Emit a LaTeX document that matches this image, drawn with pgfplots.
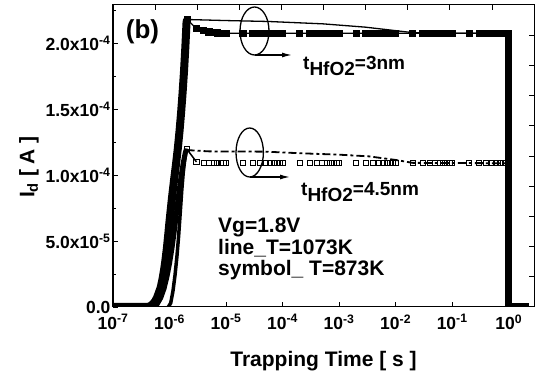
\documentclass[border=0pt]{standalone}
\usepackage{fontspec}
\setmainfont{Liberation Sans}
\usepackage{pgfplots}
\pgfplotsset{compat=1.18}
\usetikzlibrary{arrows.meta}
\begin{document}
\begin{tikzpicture}
\useasboundingbox (-113pt,-72pt) rectangle (425pt,307pt);
\begin{axis}[
  width=421pt, height=302pt, scale only axis,
  xmode=log, log basis x=10,
  xmin=1e-7, xmax=2.8, ymin=0, ymax=2.29e-4,
  scaled y ticks=false,
  xtick={1e-7,1e-6,1e-5,1e-4,1e-3,1e-2,1e-1,1},
  xticklabels={10\textsuperscript{-7},10\textsuperscript{-6},10\textsuperscript{-5},10\textsuperscript{-4},10\textsuperscript{-3},10\textsuperscript{-2},10\textsuperscript{-1},10\textsuperscript{0}},
  ytick={0,5e-5,1e-4,1.5e-4,2e-4},
  yticklabels={0.0,5.0x10\textsuperscript{-5},1.0x10\textsuperscript{-4},1.5x10\textsuperscript{-4},2.0x10\textsuperscript{-4}},
  minor ytick={2.5e-5,7.5e-5,1.25e-4,1.75e-4,2.25e-4},
  tick align=inside, xtick pos=left, ytick pos=left,
  major tick length=5pt, minor tick length=3pt,
  every tick/.style={black, line width=0.8pt},
  axis line style={line width=1pt},
  tick label style={font=\bfseries\fontsize{17.5}{17.5}\selectfont},
  yticklabel style={xshift=1pt},
  xticklabel style={yshift=-4pt},
  clip marker paths=true,
]
% 4.5nm, 873K: rise (dense symbols, drawn as a band)
\addplot[black, line width=5pt, line join=round] coordinates {
(4e-7,0)(5.5e-7,0)(6e-7,0.2e-5)(7e-7,0.7e-5)(8e-7,1.4e-5)(9e-7,2.3e-5)(1e-6,3.3e-5)
(1.1e-6,4.4e-5)(1.2e-6,5.6e-5)(1.3e-6,6.8e-5)(1.4e-6,8.0e-5)(1.5e-6,9.0e-5)(1.6e-6,9.9e-5)
(1.7e-6,1.06e-4)(1.8e-6,1.12e-4)(1.9e-6,1.17e-4)(2e-6,1.2e-4)
};
% 3nm rise: thick band (line and symbols overlapping)
\addplot[black, line width=8pt, line join=round] coordinates {
(1e-7,0)(4e-7,0)(4.5e-7,0.05e-5)(5e-7,0.2e-5)(5.5e-7,0.4e-5)(6e-7,0.7e-5)(6.5e-7,1.1e-5)
(7e-7,1.5e-5)(7.5e-7,2.1e-5)(8e-7,2.8e-5)(8.5e-7,3.6e-5)(9e-7,4.5e-5)(9.5e-7,5.5e-5)
(1e-6,6.5e-5)(1.1e-6,8.2e-5)(1.2e-6,9.6e-5)(1.3e-6,1.08e-4)(1.4e-6,1.2e-4)(1.5e-6,1.33e-4)
(1.6e-6,1.47e-4)(1.7e-6,1.62e-4)(1.8e-6,1.78e-4)(1.9e-6,1.96e-4)(2e-6,2.16e-4)(2.05e-6,2.18e-4)
};
% 3nm, 873K: filled squares at zero before the pulse
\addplot[black, only marks, mark=square*, mark size=3pt, mark options={fill=black}] coordinates {
(1e-7,0)(1.5e-7,0)(2e-7,0)(2.5e-7,0)(3e-7,0)(3.5e-7,0)(4e-7,0)
};
% 3nm, 873K: filled squares after the peak
\addplot[black, line width=1.2pt, mark=square*, mark size=3pt, mark options={fill=black, solid}] coordinates {
(2.05e-6,2.18e-4)
(3e-6,2.11e-4)(4e-6,2.095e-4)(5e-6,2.085e-4)(6e-6,2.08e-4)(7e-6,2.078e-4)(8e-6,2.076e-4)(9e-6,2.075e-4)
(1e-5,2.075e-4)(2e-5,2.075e-4)(3e-5,2.075e-4)(4e-5,2.075e-4)(5e-5,2.075e-4)(6e-5,2.075e-4)(7e-5,2.075e-4)(8e-5,2.075e-4)(9e-5,2.075e-4)
(1e-4,2.075e-4)(2e-4,2.075e-4)(3e-4,2.075e-4)(4e-4,2.075e-4)(5e-4,2.075e-4)(6e-4,2.075e-4)(7e-4,2.075e-4)(8e-4,2.075e-4)(9e-4,2.075e-4)
(1e-3,2.075e-4)(2e-3,2.075e-4)(3e-3,2.075e-4)(4e-3,2.075e-4)(5e-3,2.075e-4)(6e-3,2.075e-4)(7e-3,2.075e-4)(8e-3,2.075e-4)(9e-3,2.075e-4)
(1e-2,2.075e-4)(2e-2,2.075e-4)(3e-2,2.075e-4)(4e-2,2.075e-4)(5e-2,2.075e-4)(6e-2,2.075e-4)(7e-2,2.075e-4)(8e-2,2.075e-4)(9e-2,2.075e-4)
(1e-1,2.075e-4)(2e-1,2.075e-4)(3e-1,2.075e-4)(4e-1,2.075e-4)(5e-1,2.075e-4)(6e-1,2.075e-4)(7e-1,2.075e-4)(8e-1,2.075e-4)(9e-1,2.075e-4)
(1,2.075e-4)(1,0)(1.2,0)(1.5,0)(2,0)
};
% 3nm, 1073K: solid line
\addplot[black, line width=1.3pt] coordinates {
(2.05e-6,2.18e-4)(1e-5,2.172e-4)(5.6e-5,2.165e-4)(5.2e-4,2.147e-4)(2.9e-3,2.122e-4)(1.7e-2,2.084e-4)(3e-2,2.077e-4)(1,2.075e-4)(1,0)(2,0)
};
% 4.5nm, 873K: open squares (peak and plateau)
\addplot[black, line width=1.5pt, mark=square, mark size=2.6pt, mark options={line width=0.8pt}] coordinates {
(2e-6,1.2e-4)(3e-6,1.10e-4)
};
\addplot[black, only marks, mark=square, mark size=2.6pt, mark options={line width=0.8pt}] coordinates {
(3e-6,1.10e-4)(4e-6,1.095e-4)(5e-6,1.09e-4)(6e-6,1.09e-4)(7e-6,1.09e-4)(8e-6,1.09e-4)(9e-6,1.09e-4)
(1e-5,1.09e-4)(2e-5,1.09e-4)(3e-5,1.09e-4)(4e-5,1.09e-4)(5e-5,1.09e-4)(6e-5,1.09e-4)(7e-5,1.09e-4)(8e-5,1.09e-4)(9e-5,1.09e-4)
(1e-4,1.09e-4)(2e-4,1.09e-4)(3e-4,1.09e-4)(4e-4,1.09e-4)(5e-4,1.09e-4)(6e-4,1.09e-4)(7e-4,1.09e-4)(8e-4,1.09e-4)(9e-4,1.09e-4)
(1e-3,1.09e-4)(2e-3,1.09e-4)(3e-3,1.09e-4)(4e-3,1.09e-4)(5e-3,1.09e-4)(6e-3,1.09e-4)(7e-3,1.09e-4)(8e-3,1.09e-4)(9e-3,1.09e-4)
(1e-2,1.09e-4)(2e-2,1.09e-4)(3e-2,1.09e-4)(4e-2,1.09e-4)(5e-2,1.09e-4)(6e-2,1.09e-4)(7e-2,1.09e-4)(8e-2,1.09e-4)(9e-2,1.09e-4)
(1e-1,1.09e-4)(2e-1,1.09e-4)(3e-1,1.09e-4)(4e-1,1.09e-4)(5e-1,1.09e-4)(6e-1,1.09e-4)(7e-1,1.09e-4)(8e-1,1.09e-4)(9e-1,1.09e-4)(1,1.09e-4)
};
% 4.5nm, 1073K: rise (solid) and plateau (dash-dot)
\addplot[black, line width=3.5pt, line join=round] coordinates {
(9.5e-7,0)(1.05e-6,0.3e-5)(1.15e-6,1.2e-5)(1.25e-6,2.4e-5)(1.35e-6,3.8e-5)(1.45e-6,5.4e-5)
(1.55e-6,7.2e-5)(1.65e-6,8.9e-5)(1.75e-6,1.02e-4)(1.85e-6,1.11e-4)(1.95e-6,1.17e-4)(2e-6,1.19e-4)
};
\addplot[black, line width=1.8pt, dash pattern=on 8pt off 3pt on 3pt off 3pt] coordinates {
(2e-6,1.19e-4)(5e-6,1.18e-4)(5e-5,1.178e-4)(2e-4,1.166e-4)(1e-3,1.155e-4)(3.4e-3,1.142e-4)
(1e-2,1.115e-4)(2e-2,1.093e-4)(1,1.09e-4)
};
% turn-off at 1 s
\addplot[black, line width=7.5pt] coordinates {(1,2.075e-4)(1,0)};
\addplot[black, line width=5pt] coordinates {(1,0)(2.05,0)};
\end{axis}
\begin{axis}[
  width=421pt, height=302pt, scale only axis,
  xmin=0, xmax=10, ymin=0, ymax=10,
  xtick={1,...,9}, ytick={1,...,9},
  xticklabels={}, yticklabels={},
  tick align=inside, xtick pos=right, ytick pos=right,
  major tick length=5pt,
  every tick/.style={black, line width=0.8pt},
  axis line style={line width=1pt},
]
\end{axis}
% labels and annotations
\node[rotate=90, font=\bfseries\fontsize{21}{21}\selectfont] at (-84pt,140pt) {I\textsubscript{d} [ A ]};
\node[font=\bfseries\fontsize{21}{21}\selectfont] at (210.5pt,-54pt) {Trapping Time [ s ]};
\node[font=\bfseries\fontsize{26}{26}\selectfont] at (29.5pt,275pt) {(b)};
\draw[line width=1.3pt] (141.5pt,276pt) ellipse [x radius=14.5pt, y radius=24pt];
\draw[line width=1.3pt, -{Latex[length=10pt,width=5pt]}] (141.5pt,252pt) -- (179pt,252pt);
\node[anchor=base west, inner sep=0pt, font=\bfseries\fontsize{19}{19}\selectfont] at (190pt,237pt) {t\raisebox{-6pt}{HfO2}=3nm};
\draw[line width=1.3pt] (136.7pt,154.5pt) ellipse [x radius=13.7pt, y radius=24.5pt];
\draw[line width=1.3pt, -{Latex[length=10pt,width=5pt]}] (137pt,130pt) -- (177pt,130pt);
\node[anchor=base west, inner sep=0pt, font=\bfseries\fontsize{19}{19}\selectfont] at (188pt,111pt) {t\raisebox{-6pt}{HfO2}=4.5nm};
\node[anchor=base west, inner sep=0pt, font=\bfseries\fontsize{21}{21}\selectfont] at (105pt,74pt) {Vg=1.8V};
\node[anchor=base west, inner sep=0pt, font=\bfseries\fontsize{21}{21}\selectfont] at (105pt,52pt) {line\_T=1073K};
\node[anchor=base west, inner sep=0pt, font=\bfseries\fontsize{21}{21}\selectfont] at (105pt,31pt) {symbol\_ T=873K};
\end{tikzpicture}
\end{document}
